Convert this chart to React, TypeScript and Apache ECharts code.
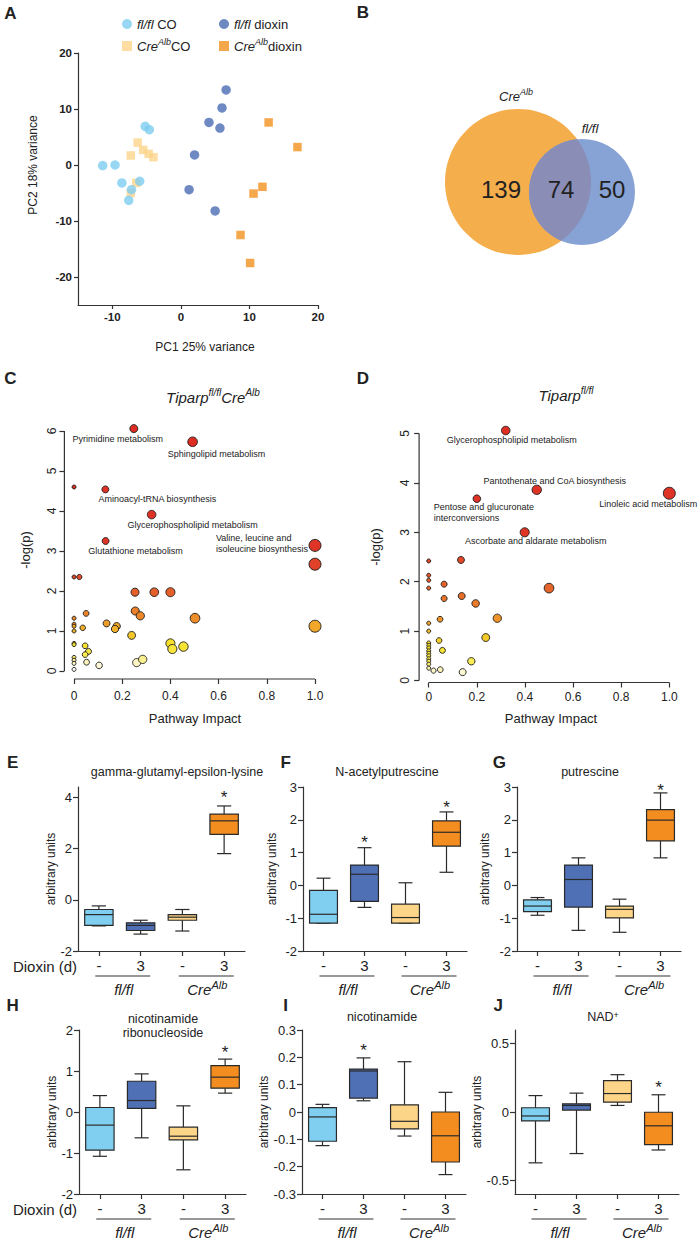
import React, { useEffect, useRef } from 'react';
import * as echarts from 'echarts';

const FONT = "'Liberation Sans', Arial, sans-serif";
const NARROW = "'Liberation Sans Narrow', 'Liberation Sans', Arial, sans-serif";
const INK = '#222';
const AXIS = '#333';

// ---------- Panel A : PCA ----------
const pcaFlflCo = [[-11.4, -0.1], [-9.6, 0], [-8.6, -3.2], [-7.2, -4.4], [-7.6, -6.3], [-6.0, -2.9], [-5.2, 6.9], [-4.6, 6.3]];
const pcaCreCo = [[-7.3, 1.7], [-6.3, 4.0], [-5.5, 2.7], [-4.7, 2.0], [-4.0, 1.4], [-6.5, -3.2], [-7.3, -5.0]];
const pcaFlflDioxin = [[6.6, 13.4], [6.0, 10.2], [4.1, 7.6], [5.7, 6.6], [2.0, 1.8], [1.2, -4.4], [5.0, -8.2]];
const pcaCreDioxin = [[12.8, 7.6], [17.0, 3.2], [11.9, -3.9], [10.6, -5.1], [8.7, -12.5], [10.1, -17.5]];
const pcaXTicks = [-10, 0, 10, 20];
const pcaYTicks = [-20, -10, 0, 10, 20];

// ---------- Panel B : Venn ----------
const vennCounts = [139, 74, 50]; // CreAlb only, shared, fl/fl only

// ---------- Panel C : Tiparp fl/fl CreAlb pathways [impact, -log(p)] ----------
const pathwayC = [
  [0.248, 6.06], [0.492, 5.73], [0.0, 4.6], [0.13, 4.54], [0.322, 3.91], [0.131, 3.25], [1.0, 3.14],
  [1.0, 2.67], [0.0, 2.35], [0.022, 2.35], [0.253, 1.97], [0.333, 1.97], [0.4, 1.97], [0.254, 1.5],
  [0.275, 1.38], [0.502, 1.32], [0.05, 1.44], [0.0, 1.32], [0.0, 1.17], [0.0, 1.12], [0.0, 1.0],
  [0.036, 1.08], [0.135, 1.19], [0.177, 1.12], [0.17, 1.05], [0.239, 0.89], [1.0, 1.12], [0.0, 0.69],
  [0.0, 0.66], [0.046, 0.63], [0.06, 0.49], [0.046, 0.41], [0.052, 0.22], [0.0, 0.34], [0.0, 0.27],
  [0.0, 0.19], [0.0, 0.04], [0.104, 0.14], [0.4, 0.69], [0.408, 0.55], [0.454, 0.61], [0.26, 0.21], [0.285, 0.29],
];
const pathwayLabelsC = [
  'Pyrimidine metabolism', 'Sphingolipid metabolism', '', 'Aminoacyl-tRNA biosynthesis',
  'Glycerophospholipid metabolism', 'Glutathione metabolism', 'Valine, leucine and\nisoleucine biosynthesis',
];
// ---------- Panel D : Tiparp fl/fl pathways ----------
const pathwayD = [
  [0.32, 5.06], [0.449, 3.86], [0.2, 3.68], [1.0, 3.79], [0.399, 3.0], [0.134, 2.44], [0, 2.42],
  [0, 2.13], [0, 2.03], [0, 1.87], [0.064, 1.95], [0.5, 1.87], [0.064, 1.66], [0.137, 1.71],
  [0.195, 1.56], [0.285, 1.26], [0.047, 1.24], [0, 1.16], [0, 1.0], [0.237, 0.87], [0.043, 0.81],
  [0.057, 0.61], [0.177, 0.39], [0, 0.76], [0, 0.71], [0, 0.66], [0, 0.6], [0, 0.55], [0, 0.5],
  [0, 0.44], [0, 0.39], [0, 0.33], [0, 0.25], [0.02, 0.2], [0.048, 0.22], [0.141, 0.17],
];
const pathwayLabelsD = [
  'Glycerophospholipid metabolism', 'Pantothenate and CoA biosynthesis',
  'Pentose and glucuronate\ninterconversions', 'Linoleic acid metabolism', 'Ascorbate and aldarate metabolism',
];
const impactTicks = [0, 0.2, 0.4, 0.6, 0.8, 1.0];
const logpTicksC = [0, 1, 2, 3, 4, 5, 6];
const logpTicksD = [0, 1, 2, 3, 4, 5];

// ---------- Panels E-J : box plots [min, Q1, median, Q3, max] ----------
const groupCategories = ['fl/fl CO', 'fl/fl dioxin', 'CreAlb CO', 'CreAlb dioxin'];
const groupPositions = [0, 1, 2, 3];
const doseTickLabels = ['-', '3', '-', '3'];
const gammaGlutamylBoxes = [[-1.02, -1.0, -0.58, -0.38, -0.24], [-1.34, -1.2, -1.0, -0.9, -0.8], [-1.22, -0.8, -0.68, -0.58, -0.38], [1.8, 2.55, 3.08, 3.34, 3.66]];
const gammaGlutamylStars = [[3, 4.13]];
const gammaGlutamylTicks = [-2, 0, 2, 4];
const acetylputrescineBoxes = [[-1.15, -1.15, -0.88, -0.15, 0.22], [-0.67, -0.49, 0.34, 0.62, 1.15], [-1.15, -1.15, -0.98, -0.57, 0.08], [0.4, 1.2, 1.62, 1.97, 2.24]];
const acetylputrescineStars = [[1, 1.44], [3, 2.5]];
const putrescineBoxes = [[-0.91, -0.8, -0.63, -0.44, -0.37], [-1.37, -0.66, 0.18, 0.62, 0.84], [-1.43, -0.99, -0.73, -0.63, -0.42], [0.84, 1.36, 1.99, 2.31, 2.82]];
const putrescineStars = [[3, 3.03]];
const polyamineTicks = [-2, -1, 0, 1, 2, 3];
const ribonucleosideBoxes = [[-1.08, -0.93, -0.32, 0.11, 0.4], [-0.63, 0.09, 0.28, 0.75, 0.93], [-1.41, -0.68, -0.59, -0.37, 0.15], [0.46, 0.58, 0.85, 1.13, 1.29]];
const ribonucleosideStars = [[3, 1.56]];
const ribonucleosideTicks = [-2, -1, 0, 1, 2];
const nicotinamideBoxes = [[-0.123, -0.107, -0.018, 0.016, 0.028], [0.041, 0.051, 0.15, 0.157, 0.198], [-0.088, -0.062, -0.034, 0.026, 0.184], [-0.229, -0.183, -0.087, 0.0, 0.072]];
const nicotinamideStars = [[1, 0.24]];
const nicotinamideTicks = [-0.3, -0.2, -0.1, 0, 0.1, 0.2, 0.3];
const nadBoxes = [[-0.372, -0.065, -0.029, 0.031, 0.12], [-0.304, 0.014, 0.048, 0.06, 0.138], [0.048, 0.072, 0.135, 0.229, 0.273], [-0.278, -0.239, -0.101, -0.002, 0.126]];
const nadStars = [[3, 0.205]];
const nadTicks = [-0.5, 0, 0.5];

// ---------- styling ----------
const groupColors = ['#7ecdf0', '#4b6db4', '#fcd48a', '#f2911f'];
const boxColors = ['#80cff1', '#4f70b5', '#fdd588', '#f38d1f'];
const heatStops: [number, number[]][] = [
  [0, [255, 255, 255]], [0.2, [252, 245, 200]], [0.4, [248, 234, 80]], [0.7, [245, 224, 42]],
  [1.0, [242, 184, 42]], [1.3, [238, 142, 42]], [1.7, [232, 112, 42]], [2.2, [227, 81, 42]],
  [3, [223, 53, 38]], [7, [220, 42, 34]],
];
function heat(v: number) {
  for (let i = 1; i < heatStops.length; i++) {
    const [v1, c1] = heatStops[i];
    const [v0, c0] = heatStops[i - 1];
    if (v <= v1) {
      const t = Math.max(0, (v - v0) / (v1 - v0));
      const c = c0.map((x, k) => Math.round(x + (c1[k] - x) * t));
      return `rgb(${c[0]},${c[1]},${c[2]})`;
    }
  }
  const c = heatStops[heatStops.length - 1][1];
  return `rgb(${c[0]},${c[1]},${c[2]})`;
}
const bubbleSize = (val: number[]) => 4 + 8 * Math.sqrt(Math.max(0, val[0]));
const fmt = (v: number) => (Math.abs(v) < 1e-9 ? '0' : Number.isInteger(v) ? String(v) : v.toFixed(1));

const labelPlaceC: Record<string, [number, number, string]> = {
  'Pyrimidine metabolism': [-16, 10, 'center'],
  'Sphingolipid metabolism': [24, 12, 'center'],
  'Aminoacyl-tRNA biosynthesis': [52, 10, 'center'],
  'Glycerophospholipid metabolism': [41, 10, 'center'],
  'Glutathione metabolism': [30, 10, 'center'],
  'Valine, leucine and\nisoleucine biosynthesis': [-99, -2, 'left'],
};
const labelPlaceD: Record<string, [number, number, string]> = {
  'Glycerophospholipid metabolism': [6, 9, 'center'],
  'Pantothenate and CoA biosynthesis': [18, -9, 'center'],
  'Pentose and glucuronate\ninterconversions': [-43, 14, 'left'],
  'Linoleic acid metabolism': [-21, 11, 'center'],
  'Ascorbate and aldarate metabolism': [11, 9, 'center'],
};

const supRich = (size: number, supSize: number, italic = true) => ({
  i: { fontSize: size, fontStyle: italic ? 'italic' : 'normal', fontFamily: FONT, lineHeight: size + 4, fill: INK, color: INK },
  n: { fontSize: size, fontFamily: FONT, lineHeight: size + 4, fill: INK, color: INK },
  s: { fontSize: supSize, fontStyle: italic ? 'italic' : 'normal', fontFamily: FONT, verticalAlign: 'top', fill: INK, color: INK },
});

function txt(x: number, y: number, text: string, o: any = {}) {
  const { rotation, ...style } = o;
  return {
    type: 'text', x, y, rotation: rotation || 0, silent: true,
    style: { text, fontFamily: FONT, fontSize: 12, fill: INK, align: 'center', verticalAlign: 'middle', ...style },
  };
}

function lensPoints(a: any, b: any, n = 48) {
  const d = Math.hypot(a.cx - b.cx, a.cy - b.cy);
  const t2 = Math.atan2(a.cy - b.cy, a.cx - b.cx);
  const al2 = Math.acos((d * d + b.r * b.r - a.r * a.r) / (2 * d * b.r));
  const t1 = Math.atan2(b.cy - a.cy, b.cx - a.cx);
  const al1 = Math.acos((d * d + a.r * a.r - b.r * b.r) / (2 * d * a.r));
  const pts: number[][] = [];
  for (let k = 0; k <= n; k++) { const t = t2 - al2 + (2 * al2 * k) / n; pts.push([b.cx + b.r * Math.cos(t), b.cy + b.r * Math.sin(t)]); }
  for (let k = 0; k <= n; k++) { const t = t1 - al1 + (2 * al1 * k) / n; pts.push([a.cx + a.r * Math.cos(t), a.cy + a.r * Math.sin(t)]); }
  return pts;
}

function pathwayData(pts: number[][], names: string[], place: Record<string, [number, number, string]>) {
  return pts.map((p, i) => {
    const name = names[i];
    if (!name) return { value: p };
    const pl = place[name];
    return {
      value: p,
      label: {
        show: true, formatter: name, position: 'inside', offset: [pl[0], pl[1]], align: pl[2],
        color: INK, fontSize: 9, fontFamily: FONT, lineHeight: 11,
      },
    };
  });
}

function buildOption() {
  const lineStyle = () => ({ color: AXIS, width: 1.2 });
  const axisLine = () => ({ show: true, onZero: false, lineStyle: lineStyle() });
  const grids: any[] = [];
  const xAxes: any[] = [];
  const yAxes: any[] = [];
  const series: any[] = [];
  const graphics: any[] = [];

  // ----- A -----
  grids.push({ left: 78, top: 53, width: 240, height: 252 });
  xAxes.push({
    gridIndex: 0, type: 'value', position: 'bottom', min: -15, max: 20, splitLine: { show: false },
    axisLine: axisLine(), axisTick: { show: true, length: 4, customValues: pcaXTicks, lineStyle: lineStyle() },
    axisLabel: { customValues: pcaXTicks, formatter: fmt, fontSize: 11.5, fontWeight: 'bold', fontFamily: FONT, color: INK, margin: 6 },
  });
  yAxes.push({
    gridIndex: 0, type: 'value', position: 'left', min: -25, max: 20, splitLine: { show: false },
    axisLine: axisLine(), axisTick: { show: true, length: 4, customValues: pcaYTicks, lineStyle: lineStyle() },
    axisLabel: { customValues: pcaYTicks, formatter: fmt, fontSize: 11.5, fontWeight: 'bold', fontFamily: FONT, color: INK, margin: 6 },
  });
  const pcaSeries = [
    ['CreAlb CO', pcaCreCo, 'rect', groupColors[2]],
    ['fl/fl CO', pcaFlflCo, 'circle', groupColors[0]],
    ['fl/fl dioxin', pcaFlflDioxin, 'circle', groupColors[1]],
    ['CreAlb dioxin', pcaCreDioxin, 'rect', groupColors[3]],
  ];
  pcaSeries.forEach(([name, data, symbol, color]: any) => {
    series.push({ type: 'scatter', name, data, symbol, symbolSize: symbol === 'rect' ? 8.5 : 9.5, xAxisIndex: 0, yAxisIndex: 0, itemStyle: { color }, clip: false });
  });
  const legendNames: Record<string, string> = {
    'fl/fl CO': '{i|fl/fl} {n|CO}', 'fl/fl dioxin': '{i|fl/fl} {n|dioxin}',
    'CreAlb CO': '{i|Cre}{s|Alb}{n|CO}', 'CreAlb dioxin': '{i|Cre}{s|Alb}{n|dioxin}',
  };
  const legendBase = {
    orient: 'vertical', top: 15, padding: 0, itemGap: 4, itemWidth: 10, itemHeight: 10, selectedMode: false,
    formatter: (n: string) => legendNames[n],
    textStyle: { fontSize: 13, fontFamily: FONT, color: INK, lineHeight: 18, rich: supRich(13, 9) },
  };
  const legends = [
    { ...legendBase, left: 122, data: [{ name: 'fl/fl CO', icon: 'circle' }, { name: 'CreAlb CO', icon: 'rect' }] },
    { ...legendBase, left: 219, data: [{ name: 'fl/fl dioxin', icon: 'circle' }, { name: 'CreAlb dioxin', icon: 'rect' }] },
  ];
  graphics.push(txt(10.5, 13.5, 'A', { fontSize: 17, fontWeight: 'bold' }));
  graphics.push(txt(33, 165, 'PC2 18% variance', { fontSize: 12, rotation: Math.PI / 2 }));
  graphics.push(txt(205, 347, 'PC1 25% variance', { fontSize: 12 }));

  // ----- B : Venn -----
  const vennCre = { cx: 518, cy: 182, r: 73 };
  const vennFl = { cx: 582, cy: 192, r: 53 };
  graphics.push(txt(363, 12, 'B', { fontSize: 17, fontWeight: 'bold' }));
  graphics.push({ type: 'circle', silent: true, shape: { cx: vennCre.cx, cy: vennCre.cy, r: vennCre.r }, style: { fill: '#f5ae4c' } });
  graphics.push({ type: 'circle', silent: true, shape: { cx: vennFl.cx, cy: vennFl.cy, r: vennFl.r }, style: { fill: '#87a3d5' } });
  graphics.push({ type: 'polygon', silent: true, shape: { points: lensPoints(vennCre, vennFl) }, style: { fill: '#8a8db6' } });
  graphics.push(txt(501, 189, String(vennCounts[0]), { fontSize: 24 }));
  graphics.push(txt(561, 189, String(vennCounts[1]), { fontSize: 24 }));
  graphics.push(txt(612, 189, String(vennCounts[2]), { fontSize: 24 }));
  graphics.push(txt(516, 96, '{i|Cre}{s|Alb}', { rich: supRich(13, 9) }));
  graphics.push(txt(590, 128, '{i|fl/fl}', { rich: supRich(13, 9) }));

  // ----- C & D : pathway bubbles -----
  const pathPanels = [
    { grid: { left: 64.4, top: 423, width: 250.6, height: 256 }, yMin: -0.2, yMax: 6.2, yTicks: logpTicksC, pts: pathwayC, names: pathwayLabelsC, place: labelPlaceC, yMargin: 6, xMargin: 11 },
    { grid: { left: 419.1, top: 423.6, width: 250.2, height: 258.9 }, yMin: -0.04, yMax: 5.2, yTicks: logpTicksD, pts: pathwayD, names: pathwayLabelsD, place: labelPlaceD, yMargin: 8, xMargin: 8 },
  ];
  pathPanels.forEach((p) => {
    const gi = grids.length;
    grids.push(p.grid);
    xAxes.push({
      gridIndex: gi, type: 'value', position: 'bottom', min: -0.04, max: 1.0, splitLine: { show: false },
      axisLine: { show: false, onZero: false }, axisTick: { show: true, length: 5, customValues: impactTicks, lineStyle: lineStyle() },
      axisLabel: { customValues: impactTicks, formatter: (v: number) => (v === 0 ? '0' : v.toFixed(1)), fontSize: 12, fontFamily: FONT, color: INK, margin: p.xMargin },
    });
    yAxes.push({
      gridIndex: gi, type: 'value', position: 'left', min: p.yMin, max: p.yMax, splitLine: { show: false },
      axisLine: { show: false, onZero: false }, axisTick: { show: true, length: 5, customValues: p.yTicks, lineStyle: lineStyle() },
      axisLabel: { customValues: p.yTicks, rotate: 90, formatter: fmt, fontSize: 12, fontFamily: FONT, color: INK, margin: p.yMargin },
    });
    series.push({
      type: 'line', xAxisIndex: gi, yAxisIndex: gi, data: [[-0.04, 0], [-0.04, p.yTicks[p.yTicks.length - 1]]],
      symbol: 'none', silent: true, clip: false, lineStyle: { color: AXIS, width: 1.2 },
    });
    series.push({
      type: 'line', xAxisIndex: gi, yAxisIndex: gi, data: [[0, p.yMin], [1, p.yMin]],
      symbol: 'none', silent: true, clip: false, lineStyle: { color: AXIS, width: 1.2 },
    });
    series.push({
      type: 'scatter', xAxisIndex: gi, yAxisIndex: gi, clip: false, symbol: 'circle',
      symbolSize: bubbleSize, data: pathwayData(p.pts, p.names, p.place),
      itemStyle: { color: (prm: any) => heat(prm.value[1]), borderColor: '#1a1a1a', borderWidth: 0.9, opacity: 1 },
      label: { show: false }, emphasis: { disabled: true },
    });
  });
  graphics.push(txt(10.5, 378, 'C', { fontSize: 17, fontWeight: 'bold' }));
  graphics.push(txt(363, 378, 'D', { fontSize: 17, fontWeight: 'bold' }));
  graphics.push(txt(213, 397, '{i|Tiparp}{s|fl/fl}{i|Cre}{s|Alb}', { rich: supRich(15, 10) }));
  graphics.push(txt(566, 395, '{i|Tiparp}{s|fl/fl}', { rich: supRich(15, 10) }));
  graphics.push(txt(25, 550, '-log(p)', { fontSize: 13, rotation: Math.PI / 2 }));
  graphics.push(txt(375, 547, '-log(p)', { fontSize: 13, rotation: Math.PI / 2 }));
  graphics.push(txt(195, 718, 'Pathway Impact', { fontSize: 13 }));
  graphics.push(txt(551, 718, 'Pathway Impact', { fontSize: 13 }));

  // ----- E-J : box plots -----
  const boxPanels = [
    { letter: 'E', lx: 12.7, title: 'gamma-glutamyl-epsilon-lysine', tx: 177, boxes: gammaGlutamylBoxes, stars: gammaGlutamylStars, ticks: gammaGlutamylTicks, min: -2, max: 4.4, left: 78, top: 787, width: 167, nameGap: 17 },
    { letter: 'F', lx: 285.7, title: 'N-acetylputrescine', tx: 387, boxes: acetylputrescineBoxes, stars: acetylputrescineStars, ticks: polyamineTicks, min: -2, max: 3, left: 303, top: 787, width: 164, nameGap: 25 },
    { letter: 'G', lx: 499.3, title: 'putrescine', tx: 590, boxes: putrescineBoxes, stars: putrescineStars, ticks: polyamineTicks, min: -2, max: 3, left: 517, top: 787, width: 164, nameGap: 26 },
    { letter: 'H', lx: 12.7, title: 'nicotinamide\nribonucleoside', tx: 163, boxes: ribonucleosideBoxes, stars: ribonucleosideStars, ticks: ribonucleosideTicks, min: -2, max: 2, left: 79, top: 1030, width: 167, nameGap: 16 },
    { letter: 'I', lx: 285.7, title: 'nicotinamide', tx: 382, boxes: nicotinamideBoxes, stars: nicotinamideStars, ticks: nicotinamideTicks, min: -0.3, max: 0.3, left: 302, top: 1030, width: 164, nameGap: 23 },
    { letter: 'J', lx: 498.3, title: 'NAD{s|+}', tx: 603, boxes: nadBoxes, stars: nadStars, ticks: nadTicks, min: -0.6, max: 0.6, left: 515, top: 1030, width: 164, nameGap: 24 },
  ];
  const H = 164;
  boxPanels.forEach((p, k) => {
    const gi = grids.length;
    grids.push({ left: p.left, top: p.top, width: p.width, height: H });
    // groups placed at 0..3 on a value axis spanning one unit per group
    xAxes.push({
      gridIndex: gi, type: 'value', position: 'bottom', min: -0.5, max: groupCategories.length - 0.5,
      axisLine: axisLine(), axisTick: { show: true, length: 5, customValues: groupPositions, lineStyle: lineStyle() },
      axisLabel: { customValues: groupPositions, formatter: (v: number) => doseTickLabels[Math.round(v)], fontSize: 15, fontFamily: NARROW, color: INK, margin: 7 },
      splitLine: { show: false },
    });
    yAxes.push({
      gridIndex: gi, type: 'value', position: 'left', min: p.min, max: p.max, splitLine: { show: false },
      axisLine: axisLine(), axisTick: { show: true, length: 5, customValues: p.ticks, lineStyle: lineStyle() },
      axisLabel: { customValues: p.ticks, formatter: fmt, fontSize: 13, fontFamily: NARROW, color: INK, margin: 6 },
      name: 'arbitrary units', nameLocation: 'middle', nameGap: p.nameGap,
      nameTextStyle: { fontSize: 12, fontFamily: NARROW, color: INK },
    });
    series.push({
      type: 'custom', xAxisIndex: gi, yAxisIndex: gi, silent: true,
      encode: { x: 0, y: [1, 2, 3, 4, 5] },
      data: p.boxes.map((b, i) => [groupPositions[i], ...b]),
      renderItem: (_params: any, api: any) => {
        const idx = api.value(0);
        const mn = api.value(1), q1 = api.value(2), md = api.value(3), q3 = api.value(4), mx = api.value(5);
        const cx = api.coord([idx, md])[0];
        const y = (v: number) => api.coord([idx, v])[1];
        const band = api.size([1, 0])[0];
        const bw = band * 0.68;
        const cw = bw * 0.5;
        const st = { stroke: '#2a2a2a', lineWidth: 1.2 };
        return {
          type: 'group',
          children: [
            { type: 'line', shape: { x1: cx, y1: y(mx), x2: cx, y2: y(q3) }, style: st },
            { type: 'line', shape: { x1: cx, y1: y(q1), x2: cx, y2: y(mn) }, style: st },
            { type: 'line', shape: { x1: cx - cw / 2, y1: y(mx), x2: cx + cw / 2, y2: y(mx) }, style: st },
            { type: 'line', shape: { x1: cx - cw / 2, y1: y(mn), x2: cx + cw / 2, y2: y(mn) }, style: st },
            { type: 'rect', shape: { x: cx - bw / 2, y: y(q3), width: bw, height: y(q1) - y(q3) }, style: { fill: boxColors[Math.round(idx)], ...st } },
            { type: 'line', shape: { x1: cx - bw / 2, y1: y(md), x2: cx + bw / 2, y2: y(md) }, style: st },
          ],
        };
      },
    });
    series.push({
      type: 'custom', xAxisIndex: gi, yAxisIndex: gi, silent: true,
      encode: { x: 0, y: 1 }, data: p.stars,
      renderItem: (_params: any, api: any) => {
        const pt = api.coord([api.value(0), api.value(1)]);
        return { type: 'text', x: pt[0], y: pt[1] + 4, style: { text: '*', fontSize: 17, fontFamily: FONT, fill: INK, align: 'center', verticalAlign: 'middle' } };
      },
    });
    const bottom = p.top + H;
    const row1 = k < 3;
    graphics.push(txt(p.lx, row1 ? 762 : 1005, p.letter, { fontSize: 17, fontWeight: 'bold' }));
    if (p.letter === 'H') {
      graphics.push(txt(p.tx, 1026, p.title, { fontSize: 12.5, lineHeight: 14 }));
    } else if (p.letter === 'J') {
      graphics.push(txt(p.tx, 1017, p.title, { fontSize: 12.5, rich: supRich(12.5, 9, false) }));
    } else {
      graphics.push(txt(p.tx, row1 ? 772 : 1017, p.title, { fontSize: 12.5 }));
    }
    [0, 1].forEach((g) => {
      const cx = p.left + (p.width * (2 * g + 1)) / 4;
      graphics.push({ type: 'line', silent: true, shape: { x1: cx + 3 - 27.5, y1: bottom + 25, x2: cx + 3 + 27.5, y2: bottom + 25 }, style: { stroke: AXIS, lineWidth: 1.2 } });
      graphics.push(txt(cx + 4, bottom + 38, g === 0 ? '{i|fl/fl}' : '{i|Cre}{s|Alb}', { rich: supRich(15, 11) }));
    });
    if (p.letter === 'E' || p.letter === 'H') {
      graphics.push(txt(45, bottom + 15, 'Dioxin (d)', { fontSize: 15, fontFamily: NARROW }));
    }
  });

  return {
    animation: false,
    backgroundColor: '#ffffff',
    textStyle: { fontFamily: FONT },
    grid: grids.map((g) => ({ ...g, containLabel: false, outerBoundsMode: 'none' })),
    xAxis: xAxes,
    yAxis: yAxes,
    legend: legends,
    series,
    graphic: graphics,
  };
}

export default function App() {
  const ref = useRef<HTMLDivElement>(null);
  useEffect(() => {
    document.body.style.margin = '0';
    const chart = echarts.init(ref.current as HTMLDivElement, undefined, { renderer: 'svg', width: 700, height: 1242 });
    chart.setOption(buildOption() as any);
    return () => chart.dispose();
  }, []);
  return <div ref={ref} style={{ width: 700, height: 1242 }} />;
}
